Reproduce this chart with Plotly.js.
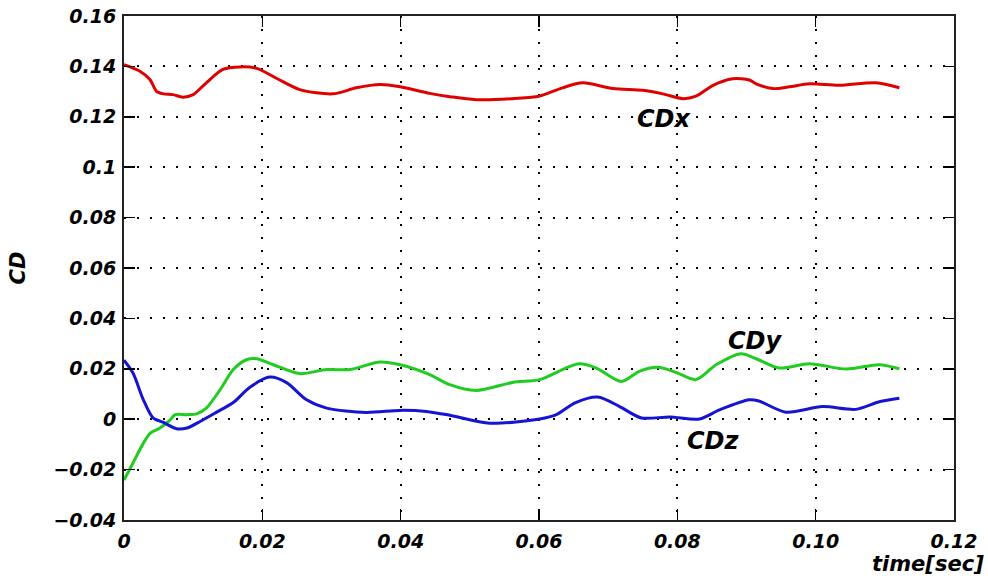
<!DOCTYPE html>
<html>
<head>
<meta charset="utf-8">
<script src="https://cdn.plot.ly/plotly-3.0.1.min.js"></script>
<style>html,body{margin:0;padding:0;background:#fff;}#chart{width:988px;height:576px;}</style>
</head>
<body>
<div id="chart"></div>
<script>
// CDx (red)
const tX = [0, 0.0023, 0.00375, 0.0047, 0.0057, 0.0071, 0.0085, 0.0100, 0.0119, 0.0143, 0.0168, 0.0192, 0.0221, 0.0254, 0.0302, 0.0336, 0.0370, 0.0399, 0.0442, 0.0471, 0.0509, 0.0586, 0.0601, 0.0634, 0.0663, 0.0707, 0.0750, 0.0779, 0.0808, 0.0827, 0.0851, 0.0880, 0.0904, 0.0914, 0.0938, 0.0962, 0.0991, 0.1034, 0.1087, 0.1121];
const cdx = [0.1407, 0.1381, 0.1348, 0.1301, 0.1291, 0.1288, 0.1278, 0.1288, 0.1335, 0.1388, 0.1398, 0.1392, 0.1352, 0.1308, 0.1291, 0.1315, 0.1328, 0.1319, 0.1293, 0.1280, 0.1268, 0.1277, 0.1282, 0.1315, 0.1335, 0.1312, 0.1305, 0.1291, 0.1272, 0.1282, 0.1324, 0.1351, 0.1346, 0.1331, 0.1312, 0.1319, 0.1331, 0.1325, 0.1335, 0.1315];
// CDy (green)
const tY = [0, 0.0013, 0.0028, 0.0038, 0.0052, 0.0066, 0.0074, 0.0091, 0.0105, 0.0119, 0.0139, 0.0158, 0.0177, 0.0192, 0.0216, 0.0254, 0.0293, 0.0327, 0.0370, 0.0399, 0.0442, 0.0471, 0.0509, 0.0562, 0.0601, 0.0634, 0.0658, 0.0683, 0.0719, 0.0745, 0.0772, 0.0798, 0.0827, 0.0856, 0.0892, 0.0914, 0.0947, 0.0991, 0.1044, 0.1092, 0.1121];
const cdy = [-0.0241, -0.0174, -0.0095, -0.0055, -0.0035, -0.0005, 0.0018, 0.0018, 0.0021, 0.0044, 0.0117, 0.0197, 0.0236, 0.0240, 0.0216, 0.0181, 0.0197, 0.0197, 0.0227, 0.0216, 0.0177, 0.0137, 0.0114, 0.0146, 0.0157, 0.0197, 0.0220, 0.0203, 0.0150, 0.0190, 0.0206, 0.0186, 0.0157, 0.0216, 0.0260, 0.0240, 0.0203, 0.0220, 0.0199, 0.0216, 0.0200];
// CDz (blue)
const tZ = [0, 0.0013, 0.0028, 0.0042, 0.0057, 0.0076, 0.0091, 0.0110, 0.0134, 0.0158, 0.0182, 0.0211, 0.0235, 0.0264, 0.0293, 0.0350, 0.0399, 0.0437, 0.0471, 0.0529, 0.0601, 0.0625, 0.0653, 0.0685, 0.0716, 0.0748, 0.0789, 0.0832, 0.0861, 0.0904, 0.0918, 0.0957, 0.1010, 0.1058, 0.1092, 0.1121];
const cdz = [0.0234, 0.0183, 0.0077, 0.0005, -0.0013, -0.0038, -0.0035, -0.0009, 0.0028, 0.0066, 0.0127, 0.0167, 0.0145, 0.0077, 0.0044, 0.0027, 0.0035, 0.0031, 0.0016, -0.0016, 0.0001, 0.0018, 0.0066, 0.0088, 0.0051, 0.0005, 0.0009, 0.0001, 0.0037, 0.0077, 0.0072, 0.0028, 0.0050, 0.0039, 0.0069, 0.0083];

const xTickVals = [0, 0.02, 0.04, 0.06, 0.08, 0.10, 0.12];
const xTickText = ["0", "0.02", "0.04", "0.06", "0.08", "0.10", "0.12"];
const yTickVals = [-0.04, -0.02, 0, 0.02, 0.04, 0.06, 0.08, 0.1, 0.12, 0.14, 0.16];
const yTickText = ["\u22120.04", "\u22120.02", "0", "0.02", "0.04", "0.06", "0.08", "0.1", "0.12", "0.14", "0.16"];
const seriesNames = ["CDx", "CDy", "CDz"];

const FONT = "DejaVu Sans, sans-serif";
const tickFont = {family: FONT, size: 19, color: "#000", weight: "bold", style: "italic"};

const traces = [
  {x: tX, y: cdx, name: seriesNames[0], mode: "lines", line: {color: "#e00000", width: 3, shape: "spline", smoothing: 0.8}},
  {x: tY, y: cdy, name: seriesNames[1], mode: "lines", line: {color: "#1fcc1f", width: 3, shape: "spline", smoothing: 0.8}},
  {x: tZ, y: cdz, name: seriesNames[2], mode: "lines", line: {color: "#1414d2", width: 3, shape: "spline", smoothing: 0.8}}
];

const annFont = {family: FONT, size: 24, color: "#000", weight: "bold", style: "italic"};

const layout = {
  width: 988, height: 576,
  margin: {l: 124, r: 34, t: 16, b: 56},
  paper_bgcolor: "#fff", plot_bgcolor: "#fff",
  showlegend: false,
  xaxis: {
    range: [0, 0.12], tickvals: xTickVals, ticktext: xTickText,
    showgrid: true, gridcolor: "#000", gridwidth: 2, griddash: "2px,11px",
    zeroline: false, showline: true, linecolor: "#222", linewidth: 2, mirror: "allticks",
    ticks: "inside", ticklen: 11, tickwidth: 1.5, tickcolor: "#000",
    tickfont: tickFont, ticklabelstandoff: 3
  },
  yaxis: {
    range: [-0.04, 0.16], tickvals: yTickVals, ticktext: yTickText,
    showgrid: true, gridcolor: "#000", gridwidth: 2, griddash: "2px,11px",
    zeroline: false, showline: true, linecolor: "#222", linewidth: 2, mirror: "allticks",
    ticks: "inside", ticklen: 11, tickwidth: 1.5, tickcolor: "#000",
    tickfont: tickFont, ticklabelstandoff: 2,
    title: {text: "CD", font: {family: FONT, size: 21, color: "#000", weight: "bold", style: "italic"}, standoff: 22}
  },
  annotations: [
    {x: 0.0781, y: 0.1193, xref: "x", yref: "y", text: seriesNames[0], showarrow: false, font: annFont},
    {x: 0.0913, y: 0.0311, xref: "x", yref: "y", text: seriesNames[1], showarrow: false, font: annFont},
    {x: 0.0852, y: -0.0086, xref: "x", yref: "y", text: seriesNames[2], showarrow: false, font: annFont},
    {x: 1, y: 0, xref: "paper", yref: "paper", text: "time[sec]", showarrow: false, font: {family: FONT, size: 21, color: "#000", weight: "bold", style: "italic"}}
  ]
};
// place the "time[sec]" label in pixel terms via paper coordinates
(function(){
  const pw = 988 - 124 - 34, ph = 576 - 16 - 56;
  const a = layout.annotations[3];
  a.x = (986 - 124) / pw; a.xanchor = "right";
  a.y = (576 - 56 - 564) / ph; a.yanchor = "middle";
})();

Plotly.newPlot("chart", traces, layout, {displayModeBar: false, staticPlot: true});
</script>
</body>
</html>
